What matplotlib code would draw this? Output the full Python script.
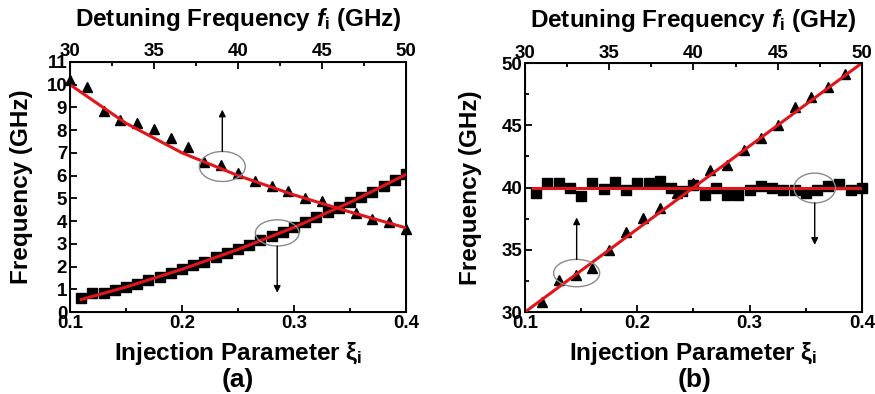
import numpy as np
import matplotlib
matplotlib.use('Agg')
from matplotlib import pyplot as plt
from matplotlib.patches import Ellipse
from matplotlib.ticker import MultipleLocator

plt.rcParams['font.family'] = ['Liberation Sans', 'DejaVu Sans']
plt.rcParams['font.weight'] = 'bold'
plt.rcParams['mathtext.fontset'] = 'custom'
plt.rcParams['mathtext.rm'] = 'Liberation Sans:bold'
plt.rcParams['mathtext.it'] = 'Liberation Sans:italic:bold'
plt.rcParams['mathtext.bf'] = 'Liberation Sans:bold'

# ---- panel (a) data ----
a_tri_x = [0.1, 0.115, 0.13, 0.145, 0.16, 0.175, 0.19, 0.205, 0.22, 0.235, 0.25,
           0.265, 0.28, 0.295, 0.31, 0.325, 0.34, 0.355, 0.37, 0.385, 0.4]
a_tri_y = [10.2, 9.9, 8.85, 8.46, 8.3, 8.06, 7.66, 7.27, 6.6, 6.47, 6.1,
           5.77, 5.55, 5.33, 5.0, 4.88, 4.58, 4.36, 4.1, 3.98, 3.66]
a_sq_x = [0.11, 0.12, 0.13, 0.14, 0.15, 0.16, 0.17, 0.18, 0.19, 0.20,
          0.21, 0.22, 0.23, 0.24, 0.25, 0.26, 0.27, 0.28, 0.29, 0.30,
          0.31, 0.32, 0.33, 0.34, 0.35, 0.36, 0.37, 0.38, 0.39, 0.40]
a_sq_y = [0.6, 0.83, 0.82, 0.95, 1.1, 1.25, 1.4, 1.55, 1.72, 1.9,
          2.07, 2.22, 2.42, 2.6, 2.78, 2.95, 3.15, 3.35, 3.52, 3.75,
          3.96, 4.2, 4.42, 4.62, 4.85, 5.05, 5.3, 5.55, 5.8, 6.05]
a_fit_x = [0.1, 0.15, 0.2, 0.25, 0.3, 0.35, 0.4]
a_fit_dec = [10.0, 8.3, 7.0, 6.0, 5.15, 4.4, 3.7]
a_fit2_x = [0.11, 0.15, 0.2, 0.25, 0.3, 0.35, 0.4]
a_fit_inc = [0.55, 1.1, 1.88, 2.75, 3.72, 4.82, 6.05]

# ---- panel (b) data ----
b_tri_x = [0.115, 0.13, 0.145, 0.16, 0.175, 0.19, 0.205, 0.22, 0.235, 0.25,
           0.265, 0.28, 0.295, 0.31, 0.325, 0.34, 0.355, 0.37, 0.385]
b_tri_y = [30.8, 32.55, 32.95, 33.5, 34.95, 36.4, 37.55, 38.35, 39.55, 40.35,
           41.4, 41.8, 43.0, 43.95, 45.0, 46.45, 47.25, 48.05, 49.1]
b_sq_x = a_sq_x
b_sq_y = [39.55, 40.35, 40.35, 40.0, 39.3, 40.35, 39.85, 40.45, 39.8, 40.35,
          40.35, 40.5, 40.0, 39.7, 40.2, 39.4, 40.0, 39.4, 39.4, 39.8,
          40.1, 39.95, 39.8, 39.8, 39.55, 39.8, 40.1, 40.3, 39.8, 39.95]
b_fit_x = [0.1, 0.4]
b_fit_lin = [30.0, 50.0]
b_flat_x = [0.107, 0.4]
b_flat_y = [40.0, 40.0]

bottom_ticks = [0.1, 0.2, 0.3, 0.4]
bottom_labels = ['0.1', '0.2', '0.3', '0.4']
top_ticks = [30, 35, 40, 45, 50]

fig = plt.figure(figsize=(8.75, 3.94), dpi=100)
axA = fig.add_axes([0.080, 0.208, 0.384, 0.635])
axB = fig.add_axes([0.600, 0.208, 0.385, 0.632])


def style(ax, yticks, ymin, ylab_x):
    ax.set_xlim(0.1, 0.4)
    ax.set_xticks(bottom_ticks)
    ax.set_xticklabels(bottom_labels)
    ax.xaxis.set_minor_locator(MultipleLocator(0.05))
    ax.set_yticks(yticks)
    ax.yaxis.set_minor_locator(MultipleLocator(ymin))
    ax.tick_params(which='both', direction='in', top=False, right=False, width=1.3)
    ax.tick_params(which='major', length=5, labelsize=13.5, pad=2)
    ax.tick_params(which='minor', length=3)
    for s in ax.spines.values():
        s.set_linewidth(1.4)
    ax.set_xlabel('Injection Parameter ξ$_{\\rm i}$', fontsize=17.5, fontweight='bold',
                  va='center')
    ax.xaxis.set_label_coords(0.5, -0.165)
    ax.set_ylabel('Frequency (GHz)', fontsize=17.5, fontweight='bold', va='center')
    ax.yaxis.set_label_coords(ylab_x, 0.5)
    top = ax.twiny()
    top.set_xlim(30, 50)
    top.set_xticks(top_ticks)
    top.xaxis.set_minor_locator(MultipleLocator(2.5))
    top.tick_params(which='both', direction='in', width=1.3, labelsize=13.5, pad=1)
    top.tick_params(which='major', length=5)
    top.tick_params(which='minor', length=3)
    top.set_xlabel('Detuning Frequency $f_{\\rm i}$ (GHz)', fontsize=17.5, fontweight='bold',
                   va='center')
    top.xaxis.set_label_coords(0.5, 1.17)
    for lab in ax.get_yticklabels() + ax.get_xticklabels() + top.get_xticklabels():
        lab.set_fontweight('bold')


def mark(ax, cx, cy, w, h, y0, y1):
    ax.add_patch(Ellipse((cx, cy), w, h, fill=False, ec='#8a8a8a', lw=1.0, zorder=6))
    ax.annotate('', xy=(cx, y1), xytext=(cx, y0),
                arrowprops=dict(arrowstyle='-|>', color='black', lw=1.0,
                                mutation_scale=10, shrinkA=0, shrinkB=0), zorder=6)


# panel (a)
axA.plot(a_tri_x, a_tri_y, '^', color='black', ms=7.5, zorder=3, clip_on=False)
axA.plot(a_sq_x, a_sq_y, 's', color='black', ms=6.5, zorder=3)
axA.plot(a_fit_x, a_fit_dec, '-', color='#e0161b', lw=2.2, zorder=4)
axA.plot(a_fit2_x, a_fit_inc, '-', color='#e0161b', lw=2.2, zorder=4)
axA.set_ylim(0, 11)
style(axA, list(range(0, 12)), 1, -0.143)
mark(axA, 0.236, 6.4, 0.041, 1.32, 7.06, 8.9)
mark(axA, 0.285, 3.48, 0.039, 1.15, 2.9, 0.85)

# panel (b)
axB.plot(b_tri_x, b_tri_y, '^', color='black', ms=7.5, zorder=3)
axB.plot(b_sq_x, b_sq_y, 's', color='black', ms=6.5, zorder=3, clip_on=False)
axB.plot(b_fit_x, b_fit_lin, '-', color='#e0161b', lw=2.2, zorder=4)
axB.plot(b_flat_x, b_flat_y, '-', color='#e0161b', lw=2.2, zorder=4)
axB.set_ylim(30, 50)
style(axB, [30, 35, 40, 45, 50], 2.5, -0.163)
mark(axB, 0.146, 33.13, 0.041, 2.2, 34.23, 37.6)
mark(axB, 0.358, 39.96, 0.037, 2.4, 38.76, 35.4)

fig.text(0.272, 0.035, '(a)', fontsize=19, fontweight='bold', ha='center', va='center')
fig.text(0.794, 0.035, '(b)', fontsize=19, fontweight='bold', ha='center', va='center')

fig.savefig('out.png', dpi=100)
